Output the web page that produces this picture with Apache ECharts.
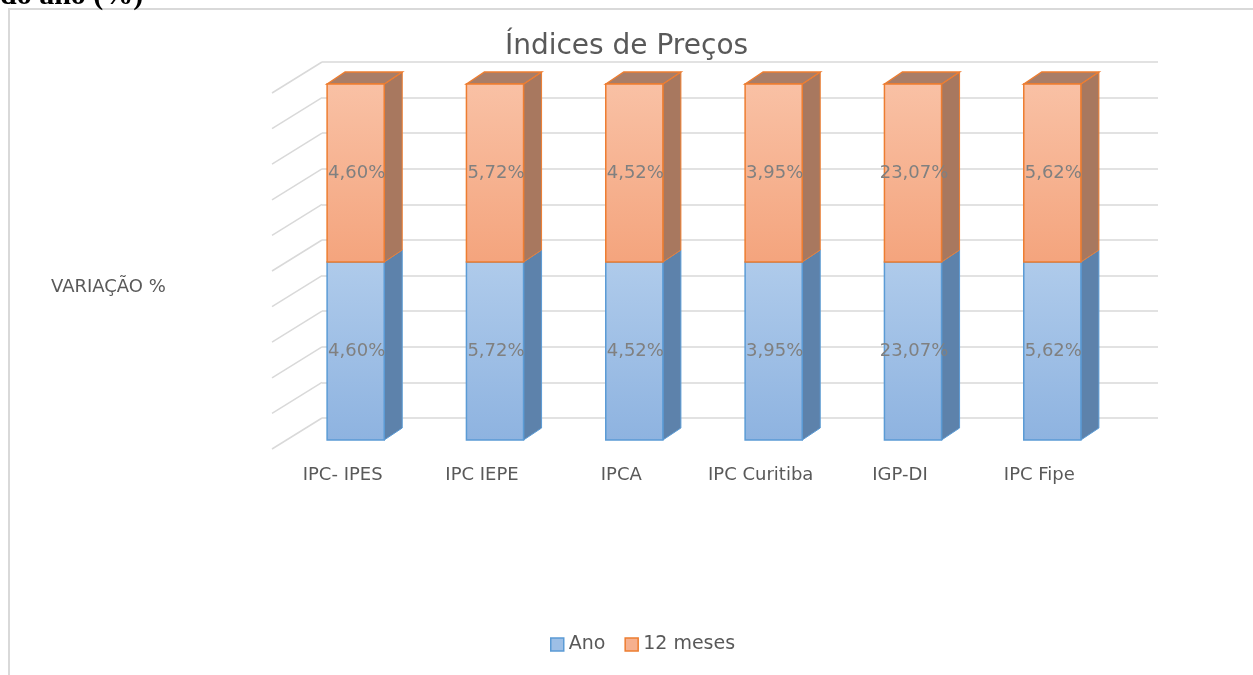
<!DOCTYPE html>
<html>
<head>
<meta charset="utf-8">
<title>Índices de Preços</title>
<script src="https://cdn.jsdelivr.net/npm/echarts@6/dist/echarts.min.js"></script>
<style>
  html, body { margin: 0; padding: 0; background: #fff; }
  #chart { width: 1253px; height: 675px; }
</style>
</head>
<body>
<div id="chart"></div>
<script>
// data
const categories = ['IPC- IPES', 'IPC IEPE', 'IPCA', 'IPC Curitiba', 'IGP-DI', 'IPC Fipe']
const ano = [4.60, 5.72, 4.52, 3.95, 23.07, 5.62]
const dozeMeses = [4.60, 5.72, 4.52, 3.95, 23.07, 5.62]
const wallTicks = [0, 10, 20, 30, 40, 50, 60, 70, 80, 90, 100]

const FONT = '"DejaVu Sans"'
const fmt = v => v.toFixed(2).replace('.', ',') + '%'

// 100% stacked: each bar is split by its share of the total
let anoRows = [], mesesRows = []
categories.forEach((c, i) => {
  let total = ano[i] + dozeMeses[i]
  let split = ano[i] / total * 100
  anoRows.push([i, 0, split, ano[i]])
  mesesRows.push([i, split, 100, dozeMeses[i]])
})

const DX = 18, DY = -12

function makeBar(front, side, topFace, edge, drawTop) {
  return function (params, api) {
    let cat = api.value(0)
    let p0 = api.coord([cat, api.value(1)])
    let p1 = api.coord([cat, api.value(2)])
    let w = api.size([1, 0])[0] * 0.41
    let x0 = p0[0] - w / 2, x1 = p0[0] + w / 2
    let yb = p0[1], yt = p1[1]
    let children = [
      {
        type: 'polygon',
        shape: { points: [[x1, yb], [x1 + DX, yb + DY], [x1 + DX, yt + DY], [x1, yt]] },
        style: { fill: side, stroke: edge, lineWidth: 1 }
      }
    ]
    if (drawTop) {
      children.push({
        type: 'polygon',
        shape: { points: [[x0, yt], [x0 + DX, yt + DY], [x1 + DX, yt + DY], [x1, yt]] },
        style: { fill: topFace, stroke: edge, lineWidth: 1.5 }
      })
    }
    children.push({
      type: 'rect',
      shape: { x: x0, y: yt, width: w, height: yb - yt },
      style: {
        fill: { type: 'linear', x: 0, y: 0, x2: 0, y2: 1, colorStops: front },
        stroke: edge, lineWidth: 1.5
      }
    })
    children.push({
      type: 'text',
      x: (x0 + x1) / 2 + 1, y: (yt + yb) / 2,
      style: {
        text: fmt(api.value(3)), fill: '#808080', font: '18px ' + FONT,
        align: 'center', verticalAlign: 'middle'
      }
    })
    return { type: 'group', children: children }
  }
}

function wallLines(params, api) {
  let p = api.coord([0, api.value(0)])
  let xl = params.coordSys.x
  return {
    type: 'line',
    shape: { x1: xl - 50, y1: p[1] + 31, x2: xl, y2: p[1] },
    style: { stroke: '#d9d9d9', lineWidth: 1.5 }
  }
}

let chart = echarts.init(document.getElementById('chart'))

let option = {
  animation: false,
  textStyle: { fontFamily: FONT },
  title: [
    {
      text: 'Índices de Preços', left: 'center', top: 28,
      textStyle: { fontSize: 28, fontWeight: 'normal', color: '#595959', fontFamily: FONT }
    },
    {
      text: 'VARIAÇÃO %', left: 46, top: 273,
      textStyle: { fontSize: 18, fontWeight: 'normal', color: '#595959', fontFamily: FONT }
    }
  ],
  graphic: [
    {
      type: 'rect', shape: { x: 9, y: 9, width: 1300, height: 700 },
      style: { fill: 'none', stroke: '#d9d9d9', lineWidth: 2 }, z: -1
    },
    {
      type: 'text', x: 0, y: 11,
      style: {
        text: 'do ano (%)', font: 'bold 30px "Liberation Serif"', fill: '#000',
        verticalAlign: 'bottom'
      }
    }
  ],
  legend: {
    bottom: 16, left: 545,
    itemWidth: 13, itemHeight: 13, itemGap: 19,
    icon: 'rect',
    itemStyle: { borderWidth: 1.5 },
    textStyle: { fontSize: 19, color: '#595959', fontFamily: FONT },
    data: ['Ano', '12 meses']
  },
  grid: [
    { left: 286, right: 131, top: 84, bottom: 235 },
    { left: 322, right: 95, top: 62, bottom: 257 }
  ],
  xAxis: [
    {
      type: 'category', gridIndex: 0, data: categories,
      axisLine: { show: false }, axisTick: { show: false },
      axisLabel: {
        interval: 0, margin: 26, fontSize: 18, color: '#595959', fontFamily: FONT,
        padding: [0, 26, 0, 0]
      }
    },
    { type: 'category', gridIndex: 1, data: categories, show: false }
  ],
  yAxis: [
    { type: 'value', gridIndex: 0, min: 0, max: 100, show: false },
    {
      type: 'value', gridIndex: 1, min: 0, max: 100, interval: 10,
      axisLine: { show: false }, axisTick: { show: false }, axisLabel: { show: false },
      splitLine: { lineStyle: { color: '#d9d9d9', width: 1.5 } }
    }
  ],
  series: [
    {
      type: 'custom', name: 'walls', xAxisIndex: 1, yAxisIndex: 1,
      data: wallTicks.map(t => [t]),
      encode: { y: 0 },
      renderItem: wallLines, silent: true, z: 1
    },
    {
      type: 'custom', name: 'Ano', xAxisIndex: 0, yAxisIndex: 0,
      data: anoRows, encode: { x: 0, y: [1, 2] },
      itemStyle: { color: '#9dbfe6', borderColor: '#5b9bd5' },
      renderItem: makeBar([{ offset: 0, color: '#afcbeb' }, { offset: 1, color: '#8eb3e0' }],
        '#5d82ab', '#5d82ab', '#5b9bd5', false),
      z: 3
    },
    {
      type: 'custom', name: '12 meses', xAxisIndex: 0, yAxisIndex: 0,
      data: mesesRows, encode: { x: 0, y: [1, 2] },
      itemStyle: { color: '#f6b08e', borderColor: '#ed7d31' },
      renderItem: makeBar([{ offset: 0, color: '#f9c1a5' }, { offset: 1, color: '#f4a47d' }],
        '#a8785f', '#a97d67', '#ed7d31', true),
      z: 4
    }
  ]
}

chart.setOption(option)
</script>
</body>
</html>
